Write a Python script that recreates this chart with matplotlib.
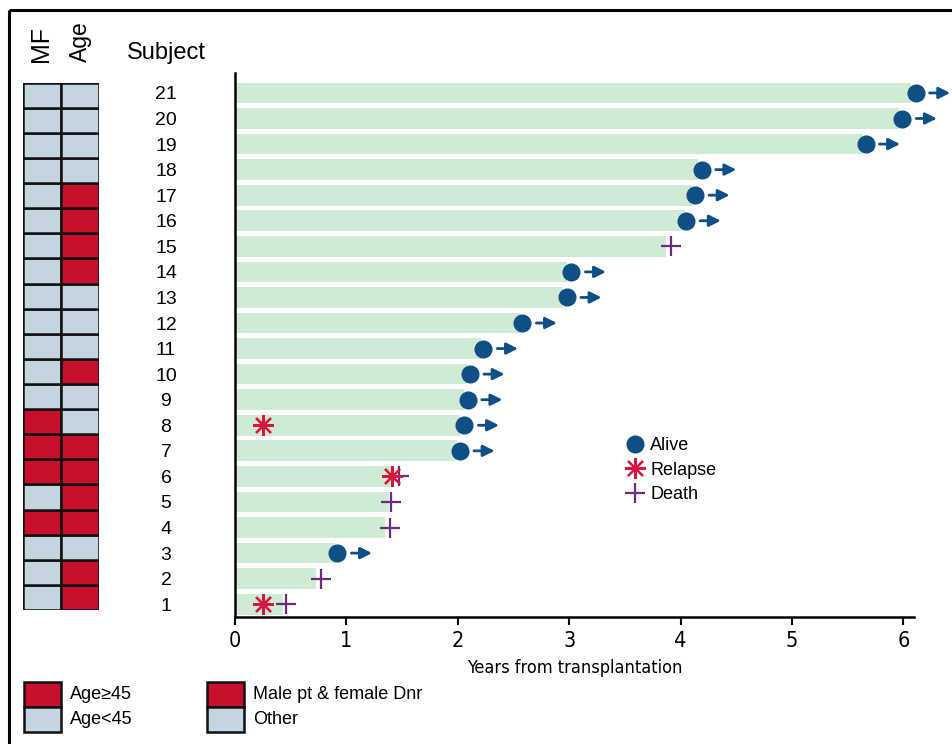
import matplotlib
matplotlib.use("Agg")
from matplotlib import pyplot as plt
from matplotlib import font_manager
from matplotlib.lines import Line2D
from matplotlib.patches import Rectangle

plt.rcParams['font.family'] = ['Liberation Sans', 'DejaVu Sans']

# subjects 1..21
subjects = list(range(1, 22))
followup = [0.43, 0.73, 0.90, 1.35, 1.38, 1.42, 1.99, 2.02, 2.06, 2.08, 2.21,
            2.56, 2.94, 2.98, 3.87, 4.04, 4.10, 4.16, 5.64, 5.96, 6.07]

alive_subj = [3, 7, 8, 9, 10, 11, 12, 13, 14, 16, 17, 18, 19, 20, 21]
alive_time = [0.92, 2.02, 2.06, 2.09, 2.11, 2.23, 2.58, 2.98, 3.02, 4.05, 4.13, 4.19, 5.66, 5.99, 6.11]
death_subj = [1, 2, 4, 5, 6, 15]
death_time = [0.46, 0.77, 1.39, 1.40, 1.47, 3.91]
relapse_subj = [1, 6, 8]
relapse_time = [0.25, 1.41, 0.25]

# 1 = red (MF: male pt & female donor, Age: >=45), subjects 1..21
mf_flag = [0, 0, 0, 1, 0, 1, 1, 1, 0, 0, 0, 0, 0, 0, 0, 0, 0, 0, 0, 0, 0]
age_flag = [1, 1, 0, 1, 1, 1, 1, 0, 0, 1, 0, 0, 0, 1, 1, 1, 1, 0, 0, 0, 0]

RED = '#C8102E'
LBLUE = '#C5D5E0'
GREEN = '#CFEBD4'
BLUE = '#0F4F85'
PINK = '#D6173F'
PURPLE = '#6A2C7C'

# condensed font for the x axis, if one is installed
def narrow_font(size):
    fp = font_manager.FontProperties(family='DejaVu Sans', stretch='condensed', size=size)
    try:
        if 'Condensed' in font_manager.findfont(fp, fallback_to_default=False):
            return fp
    except Exception:
        pass
    return font_manager.FontProperties(family='Liberation Sans', size=size - 1.5)

W, H = 953, 744
fig = plt.figure(figsize=(W / 100, H / 100), dpi=100)

def fx(px):
    return px / W

def fy(py):
    return 1 - py / H

# main timeline axes
ax = fig.add_axes([fx(235), fy(617), fx(914) - fx(235), fy(73) - fy(617)])
ax.barh(subjects, followup, height=0.81, color=GREEN, zorder=1)
ax.plot(alive_time, alive_subj, 'o', color=BLUE, markersize=12, zorder=3, clip_on=False)
ax.plot(death_time, death_subj, '+', color=PURPLE, markersize=14, mew=1.6, zorder=3)
ax.plot(relapse_time, relapse_subj, marker=(8, 2, 0), ls='none', color=PINK,
        markersize=15, mew=1.6, zorder=4)
for t, s in zip(alive_time, alive_subj):
    ax.annotate('', xy=(t + 0.31, s), xytext=(t + 0.125, s), annotation_clip=False,
                arrowprops=dict(arrowstyle='-|>', color=BLUE, lw=2,
                                mutation_scale=17, shrinkA=0, shrinkB=0))

ax.set_xlim(0, 6.095)
ax.set_ylim(0.5, 21.78)
ax.set_xticks(range(7))
ax.set_xticklabels([str(i) for i in range(7)], fontproperties=narrow_font(15.5))
ax.set_yticks([])
for sp in ['top', 'right']:
    ax.spines[sp].set_visible(False)
for sp in ['left', 'bottom']:
    ax.spines[sp].set_linewidth(1.8)
ax.tick_params(axis='x', length=6, width=1.5, pad=4)
ax.set_xlabel('Years from transplantation', fontproperties=narrow_font(13), labelpad=6)

ytrans = matplotlib.transforms.blended_transform_factory(fig.transFigure, ax.transData)
for s in subjects:
    fig.text(fx(166), s, str(s), ha='center', va='center_baseline', fontsize=14, transform=ytrans)
fig.text(fx(166), fy(53), 'Subject', ha='center', va='center', fontsize=17)

# legend for event markers
handles = [Line2D([], [], marker='o', ls='none', color=BLUE, markersize=12),
           Line2D([], [], marker=(8, 2, 0), ls='none', color=PINK, markersize=15, mew=1.6),
           Line2D([], [], marker='+', ls='none', color=PURPLE, markersize=15, mew=1.6)]
fig.legend(handles, ['Alive', 'Relapse', 'Death'], loc='upper left',
           bbox_to_anchor=(fx(626), fy(437)), frameon=False, fontsize=13,
           handlelength=1.0, handletextpad=0.35, labelspacing=0.42,
           borderpad=0, borderaxespad=0)

# left grid of MF / Age
gax = fig.add_axes([fx(23.5), fy(610), fx(99) - fx(23.5), fy(82.7) - fy(610)])
for col, flags in enumerate([mf_flag, age_flag]):
    for s, f in zip(subjects, flags):
        gax.add_patch(Rectangle((col, s - 1), 1, 1, facecolor=RED if f else LBLUE,
                                edgecolor='#111111', lw=1.8))
gax.set_xlim(0, 2)
gax.set_ylim(0, 21)
gax.axis('off')
fig.text(fx(41), fy(62), 'MF', rotation=90, ha='center', va='bottom', fontsize=18)
fig.text(fx(80), fy(62), 'Age', rotation=90, ha='center', va='bottom', fontsize=16.5)

# bottom legend for the grid
lax = fig.add_axes([0, 0, 1, 1], facecolor='none')
lax.set_xlim(0, W)
lax.set_ylim(H, 0)
lax.axis('off')
leg_items = [(24, 682, RED, 'Age\u226545'), (24, 707, LBLUE, 'Age<45'),
             (207, 682, RED, 'Male pt & female Dnr'), (207, 707, LBLUE, 'Other')]
for x0, y0, c, lab in leg_items:
    lax.add_patch(Rectangle((x0, y0), 37, 25, facecolor=c, edgecolor='#111111', lw=1.8))
    lax.text(x0 + 46, y0 + 12.5, lab, ha='left', va='center', fontsize=13)

# partial frame around the figure
lax.plot([9.5, W], [10, 10], color='black', lw=2.2, solid_capstyle='butt')
lax.plot([9.5, 9.5], [10, H], color='black', lw=2.2, solid_capstyle='butt')

fig.savefig('out.png', dpi=100)
